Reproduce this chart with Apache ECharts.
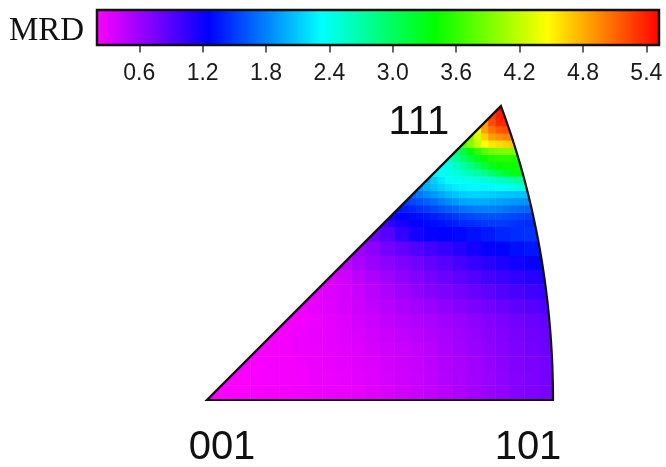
<!DOCTYPE html>
<html>
<head>
<meta charset="utf-8">
<script src="https://cdn.jsdelivr.net/npm/echarts@6/dist/echarts.min.js"></script>
<style>
  html, body { margin: 0; padding: 0; background: #ffffff; }
  #chart { width: 666px; height: 467px; }
</style>
</head>
<body>
<div id="chart"></div>
<script>
// ---------- data ----------
const mrdTitle = 'MRD';
const mrdMin = 0.2;
const mrdMax = 5.52;
const colorbarTicks = [0.6, 1.2, 1.8, 2.4, 3.0, 3.6, 4.2, 4.8, 5.4];
const cornerLabels = ['001', '101', '111'];

// Coarse grid (24 cells per unit of the projected triangle), lower part.
// Row j (bottom -> top) starts at column j.
const coarseCells = 24;
const row00 = [0.22,0.22,0.22,0.23,0.24,0.25,0.26,0.27,0.28,0.29,0.31,0.33,0.36,0.39,0.42,0.46,0.50,0.54,0.58,0.62,0.66,0.70,0.73,0.76];
const row01 = [0.22,0.22,0.23,0.24,0.25,0.26,0.27,0.28,0.30,0.32,0.34,0.37,0.40,0.43,0.47,0.51,0.55,0.59,0.63,0.67,0.71,0.74,0.77];
const row02 = [0.22,0.23,0.24,0.25,0.26,0.28,0.29,0.31,0.33,0.35,0.38,0.41,0.44,0.48,0.52,0.56,0.60,0.64,0.68,0.72,0.75,0.78];
const row03 = [0.23,0.24,0.25,0.27,0.28,0.30,0.32,0.34,0.37,0.40,0.43,0.46,0.50,0.54,0.58,0.62,0.66,0.70,0.74,0.77,0.80];
const row04 = [0.24,0.25,0.27,0.29,0.31,0.33,0.36,0.39,0.42,0.46,0.49,0.53,0.56,0.60,0.64,0.68,0.72,0.76,0.79,0.82];
const row05 = [0.24,0.26,0.28,0.31,0.34,0.38,0.42,0.46,0.50,0.53,0.56,0.60,0.63,0.67,0.71,0.75,0.79,0.82,0.85];
const row06 = [0.27,0.30,0.33,0.37,0.41,0.46,0.50,0.55,0.59,0.63,0.67,0.71,0.75,0.79,0.83,0.87,0.90,0.93];
const row07 = [0.30,0.34,0.38,0.43,0.48,0.54,0.60,0.65,0.70,0.74,0.78,0.83,0.88,0.92,0.96,1.00,1.03];
const row08 = [0.35,0.40,0.47,0.54,0.60,0.66,0.72,0.77,0.82,0.87,0.92,0.97,1.02,1.07,1.10,1.13];
const row09 = [0.48,0.55,0.62,0.68,0.73,0.79,0.85,0.90,0.97,1.04,1.10,1.15,1.20,1.23,1.26];
const row10 = [0.60,0.68,0.78,0.85,0.92,0.98,1.04,1.12,1.18,1.24,1.28,1.32,1.35,1.36];
const row11 = [0.80,0.90,1.05,1.18,1.24,1.27,1.29,1.33,1.37,1.42,1.45,1.47,1.48];
const coarseRows = [row00,row01,row02,row03,row04,row05,row06,row07,row08,row09,row10,row11];

// Fine grid (48 cells per unit), upper part near 111; first row is row 24.
const fineCells = 48;
const fineFirstRow = 24;
const frow24 = [1.00,1.08,1.15,1.20,1.24,1.27,1.29,1.31,1.33,1.36,1.39,1.42,1.44,1.46,1.48,1.50,1.50,1.50,1.48,1.46,1.44,1.42];
const frow25 = [1.20,1.25,1.28,1.30,1.32,1.35,1.38,1.42,1.46,1.50,1.53,1.56,1.58,1.60,1.60,1.60,1.58,1.56,1.54,1.52,1.50];
const frow26 = [1.35,1.38,1.42,1.46,1.50,1.55,1.60,1.65,1.70,1.74,1.77,1.79,1.80,1.80,1.78,1.75,1.72,1.70,1.68,1.66];
const frow27 = [1.50,1.55,1.60,1.66,1.72,1.78,1.84,1.90,1.94,1.97,1.98,1.98,1.96,1.94,1.92,1.90,1.88,1.86];
const frow28 = [1.70,1.76,1.83,1.90,1.97,2.03,2.08,2.12,2.14,2.14,2.13,2.12,2.10,2.08,2.07,2.06,2.06];
const frow29 = [1.90,1.98,2.06,2.14,2.20,2.25,2.28,2.30,2.30,2.30,2.31,2.33,2.36,2.42,2.48,2.52];
const frow30 = [2.00,2.12,2.24,2.32,2.36,2.38,2.40,2.42,2.45,2.50,2.56,2.62,2.68,2.72,2.75];
const frow31 = [2.30,2.36,2.42,2.48,2.55,2.62,2.70,2.80,2.95,3.10,3.20,3.30,3.30];
const frow32 = [2.30,2.42,2.55,2.70,2.85,3.00,3.15,3.30,3.40,3.45,3.45,3.42];
const frow33 = [2.55,2.75,2.95,3.12,3.28,3.42,3.50,3.55,3.55,3.52,3.50];
const frow34 = [2.95,3.10,3.35,3.58,3.75,3.85,3.90,3.92,3.90,3.85];
const frow35 = [3.70,3.95,4.20,4.45,4.55,4.60,4.65,4.70];
const frow36 = [3.90,4.30,4.65,4.85,4.92,4.97,4.97];
const frow37 = [4.50,4.85,5.05,5.15,5.20,5.20];
const frow38 = [4.85,5.20,5.35,5.35];
const frow39 = [5.25,5.40,5.45];
const frow40 = [5.50,5.50];
const fineRows = [frow24,frow25,frow26,frow27,frow28,frow29,frow30,frow31,frow32,frow33,
                  frow34,frow35,frow36,frow37,frow38,frow39,frow40];

// ---------- styles ----------
const rainbow = ['#ff00ff', '#0000ff', '#00ffff', '#00ff00', '#ffff00', '#ff0000'];

// ---------- build cell tables ----------
function buildCells(rows, firstRow) {
  const out = [];
  rows.forEach(function (row, k) {
    const j = firstRow + k;
    row.forEach(function (v, m) { out.push([j + m, j, v]); });
  });
  return out;
}
const coarseData = buildCells(coarseRows, 0);
const fineData = buildCells(fineRows, fineFirstRow);

// ---------- geometry of the standard triangle (equal-area projection) ----------
const R101 = 2 * Math.sin(Math.PI / 8);
function arcPoint(phi) {
  const theta = Math.atan(1 / Math.cos(phi));
  const r = 2 * Math.sin(theta / 2) / R101;
  return [r * Math.cos(phi), r * Math.sin(phi)];
}
function trianglePoints(api) {
  const pts = [api.coord([0, 0])];
  const n = 60;
  for (let s = 0; s <= n; s++) {
    pts.push(api.coord(arcPoint((Math.PI / 4) * s / n)));
  }
  return pts;
}
function cellRenderer(n) {
  return function (params, api) {
    const i = api.value(0), j = api.value(1);
    const p0 = api.coord([i / n, j / n]);
    const p1 = api.coord([(i + 1) / n, (j + 1) / n]);
    return {
      type: 'rect',
      shape: { x: p0[0], y: p1[1] - 0.4, width: p1[0] - p0[0] + 0.5, height: p0[1] - p1[1] + 0.5 },
      style: { fill: api.visual('color') },
      clipPath: { type: 'polygon', shape: { points: trianglePoints(api) } }
    };
  };
}

const chart = echarts.init(document.getElementById('chart'), null, { renderer: 'canvas' });

const option = {
  backgroundColor: '#ffffff',
  animation: false,
  grid: [
    { left: 207, top: 88.6, width: 346, height: 311.4 },
    { left: 97, top: 10, width: 562, height: 35 }
  ],
  xAxis: [
    { gridIndex: 0, type: 'value', min: 0, max: 1, show: false },
    {
      gridIndex: 1, type: 'value', min: mrdMin, max: mrdMax, position: 'bottom', offset: 1.5,
      axisLine: { show: false },
      splitLine: { show: false },
      axisTick: { show: true, customValues: colorbarTicks, length: 7.5, inside: false,
                  lineStyle: { color: '#555', width: 1.8 } },
      axisLabel: { show: true, customValues: colorbarTicks, margin: 16,
                   formatter: function (v) { return v.toFixed(1); },
                   fontSize: 23, fontFamily: 'Liberation Sans', color: '#1a1a1a' }
    }
  ],
  yAxis: [
    { gridIndex: 0, type: 'value', min: 0, max: 0.9, show: false },
    { gridIndex: 1, type: 'value', min: 0, max: 1, show: false }
  ],
  visualMap: {
    show: false,
    type: 'continuous',
    min: mrdMin,
    max: mrdMax,
    dimension: 2,
    seriesIndex: [0, 1],
    inRange: { color: rainbow }
  },
  graphic: [
    { type: 'text', left: 9, top: 15, style: { text: mrdTitle, fontSize: 33,
      fontFamily: 'Liberation Serif', fill: '#111' } }
  ],
  series: [
    {
      type: 'custom',
      coordinateSystem: 'cartesian2d',
      xAxisIndex: 0, yAxisIndex: 0,
      dimensions: ['i', 'j', 'mrd'],
      encode: { x: 0, y: 1 },
      data: coarseData,
      z: 1,
      renderItem: cellRenderer(coarseCells)
    },
    {
      type: 'custom',
      coordinateSystem: 'cartesian2d',
      xAxisIndex: 0, yAxisIndex: 0,
      dimensions: ['i', 'j', 'mrd'],
      encode: { x: 0, y: 1 },
      data: fineData,
      z: 2,
      renderItem: cellRenderer(fineCells)
    },
    {
      type: 'custom',
      coordinateSystem: 'cartesian2d',
      xAxisIndex: 0, yAxisIndex: 0,
      data: [[0, 0]],
      z: 5,
      renderItem: function (params, api) {
        const pts = trianglePoints(api);
        const c001 = api.coord([0, 0]);
        const c101 = api.coord(arcPoint(0));
        const c111 = api.coord(arcPoint(Math.PI / 4));
        const txt = function (t, x, y) {
          return { type: 'text', x: x, y: y,
                   style: { text: t, fontSize: 40, fontFamily: 'Liberation Sans', fill: '#111',
                            align: 'center', verticalAlign: 'middle' } };
        };
        return {
          type: 'group',
          children: [
            { type: 'polygon', shape: { points: pts },
              style: { fill: 'none', stroke: '#111', lineWidth: 2.2, lineJoin: 'miter' } },
            txt(cornerLabels[0], c001[0] + 15, c001[1] + 48),
            txt(cornerLabels[1], c101[0] - 25, c101[1] + 48),
            txt(cornerLabels[2], c111[0] - 82, c111[1] + 17)
          ]
        };
      }
    },
    {
      type: 'custom',
      coordinateSystem: 'cartesian2d',
      xAxisIndex: 1, yAxisIndex: 1,
      data: [[mrdMin, mrdMax]],
      z: 5,
      renderItem: function (params, api) {
        const a = api.coord([mrdMin, 0]);
        const b = api.coord([mrdMax, 1]);
        const stops = rainbow.map(function (c, k) {
          return { offset: k / (rainbow.length - 1), color: c };
        });
        return {
          type: 'rect',
          shape: { x: a[0], y: b[1], width: b[0] - a[0], height: a[1] - b[1] },
          style: {
            fill: { type: 'linear', x: 0, y: 0, x2: 1, y2: 0, colorStops: stops },
            stroke: '#111', lineWidth: 2.5
          }
        };
      }
    }
  ]
};

chart.setOption(option);
</script>
</body>
</html>
